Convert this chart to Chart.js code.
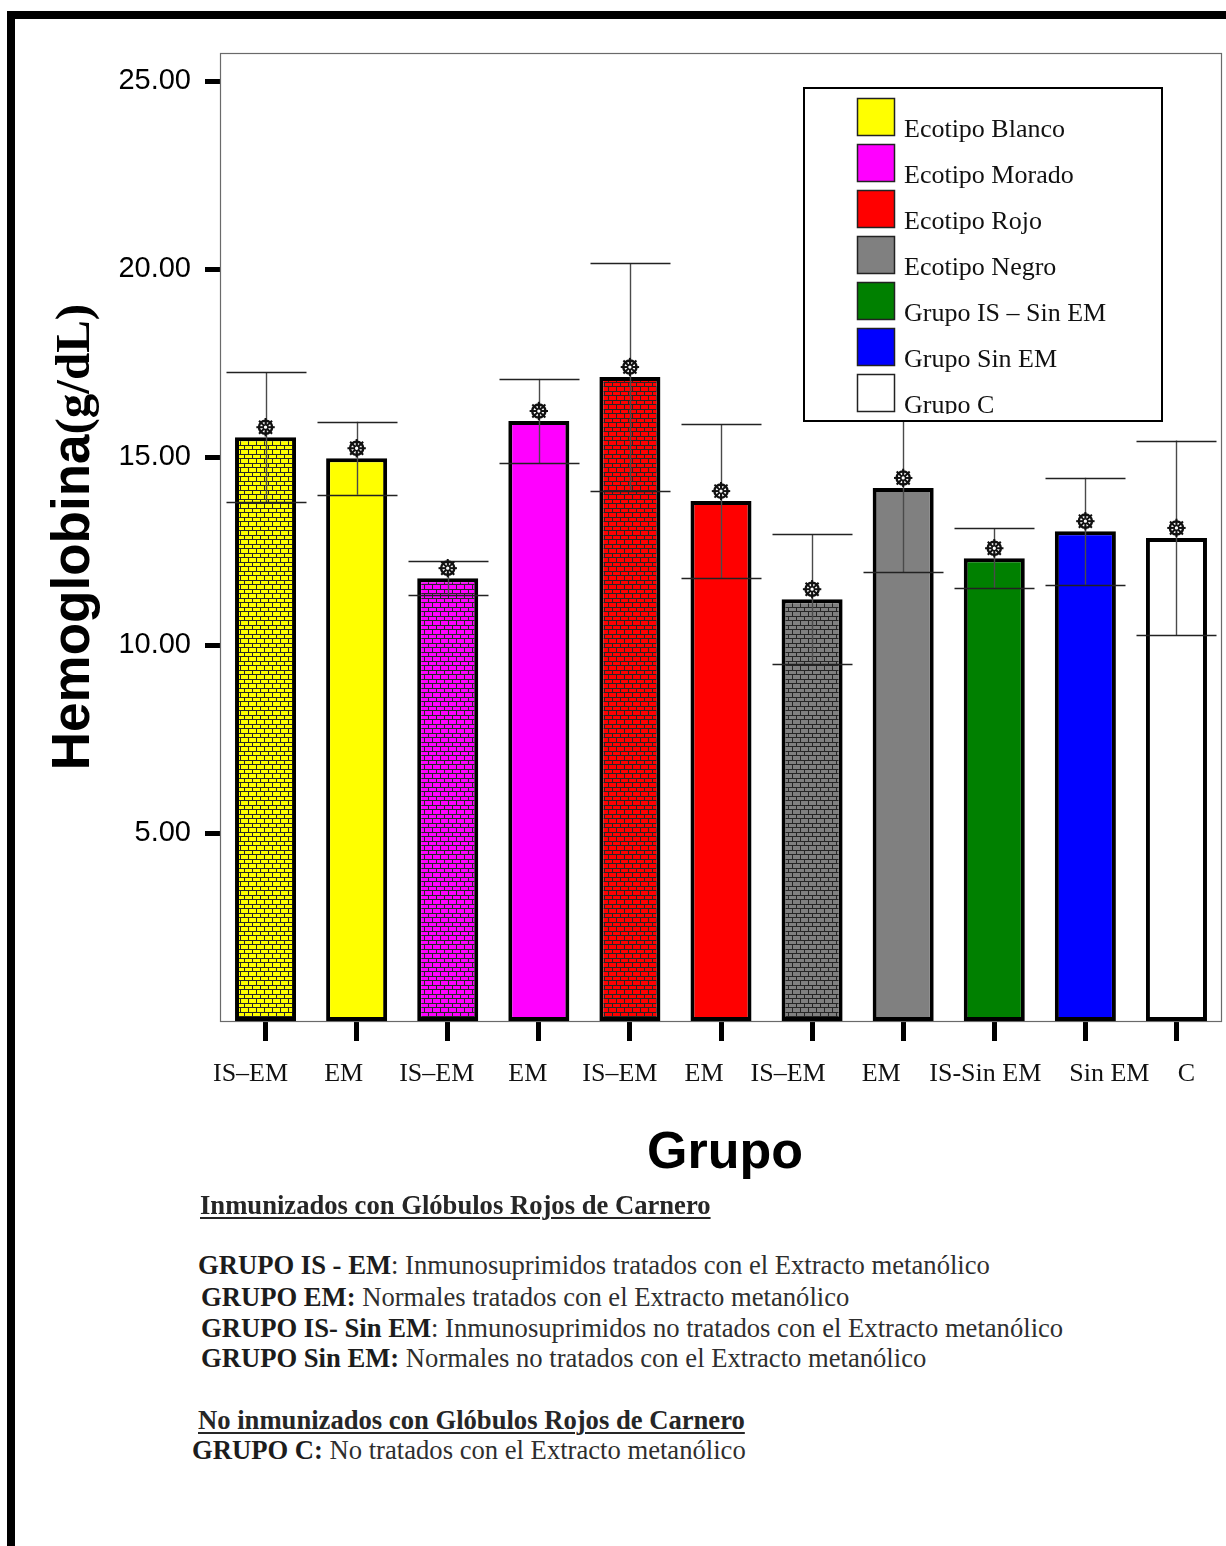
<!DOCTYPE html>
<html lang="es">
<head>
<meta charset="utf-8">
<title>Hemoglobina por grupo</title>
<script src="https://cdn.jsdelivr.net/npm/chart.js@4.4.1/dist/chart.umd.min.js"></script>
<style>
  html, body { margin: 0; padding: 0; background: #fff; }
  body { width: 1226px; height: 1546px; position: relative; overflow: hidden; }
  #frame { position: absolute; left: 7px; top: 11px; right: -20px; bottom: -20px;
           border-top: 8px solid #000; border-left: 8px solid #000; }
  #chart { position: absolute; left: 0; top: 0; }
  .note { position: absolute; white-space: nowrap; height: 30px; line-height: 30px;
          font-family: "Liberation Serif", "Times New Roman", serif; font-size: 27px;
          color: #2e2e2e; transform-origin: 0 50%; transform: scaleX(0.986); }
  .note b { color: #1c1c1c; }
  .head { font-weight: bold; color: #262626; text-decoration: underline;
          text-decoration-thickness: 2px; text-underline-offset: 3px; }
</style>
</head>
<body>
<div id="frame"></div>
<canvas id="chart" width="1226" height="1191"></canvas>

<div class="note head" style="left:200px; top:1190px;">Inmunizados con Glóbulos Rojos de Carnero</div>
<div class="note" style="left:198px; top:1250px;"><b>GRUPO IS - EM</b>: Inmunosuprimidos tratados con el Extracto metanólico</div>
<div class="note" style="left:201px; top:1282px;"><b>GRUPO EM:</b> Normales tratados con el Extracto metanólico</div>
<div class="note" style="left:201px; top:1313px;"><b>GRUPO IS- Sin EM</b>: Inmunosuprimidos no tratados con el Extracto metanólico</div>
<div class="note" style="left:201px; top:1343px;"><b>GRUPO Sin EM:</b> Normales no tratados con el Extracto metanólico</div>
<div class="note head" style="left:198px; top:1405px;">No inmunizados con Glóbulos Rojos de Carnero</div>
<div class="note" style="left:192px; top:1435px;"><b>GRUPO C:</b> No tratados con el Extracto metanólico</div>

<script>
// ---- data ----
const categories = ['IS–EM', 'EM', 'IS–EM', 'EM', 'IS–EM', 'EM', 'IS–EM', 'EM', 'IS-Sin EM', 'Sin EM', 'C'];
const hemoglobin = [15.53, 14.97, 11.78, 15.96, 17.13, 13.83, 11.22, 14.18, 12.31, 13.03, 12.85];
const errorHalf  = [1.73, 0.97, 0.45, 1.12, 3.03, 2.05, 1.73, 2.24, 0.80, 1.42, 2.59];
const yTickValues = [5, 10, 15, 20, 25];
const legendLabels = ['Ecotipo Blanco', 'Ecotipo Morado', 'Ecotipo Rojo', 'Ecotipo Negro',
                      'Grupo IS – Sin EM', 'Grupo Sin EM', 'Grupo C'];

// ---- styling ----
const legendColors = ['#ffff00', '#ff00ff', '#ff0000', '#808080', '#008000', '#0000ff', '#ffffff'];
const barColors = ['#ffff00', '#ffff00', '#ff00ff', '#ff00ff', '#ff0000', '#ff0000',
                   '#808080', '#808080', '#008000', '#0000ff', '#ffffff'];
const brickBars = [true, false, true, false, true, false, true, false, false, false, false];
// horizontal nudge of each category label from its tick (px)
const labelShift = [-15, -13, -11, -11, -10, -17, -24, -22, -9, 24, 10];

const SANS = '"Liberation Sans", Arial, Helvetica, sans-serif';
const SERIF = '"Liberation Serif", "Times New Roman", serif';

// brick fill used for the immunosuppressed (IS–EM) groups
function brickPattern(color) {
  const c = document.createElement('canvas');
  c.width = 8; c.height = 9;
  const g = c.getContext('2d');
  g.fillStyle = color; g.fillRect(0, 0, 8, 9);
  g.fillStyle = '#262626';
  g.fillRect(0, 4, 8, 1);
  g.fillRect(0, 8, 8, 1);
  g.fillRect(0, 0, 1, 4);
  g.fillRect(4, 5, 1, 3);
  return g.createPattern(c, 'repeat');
}

const ctx = document.getElementById('chart').getContext('2d');
const fills = barColors.map((c, i) => brickBars[i] ? brickPattern(c) : c);

function drawWheel(g, x, y) {
  g.save();
  g.strokeStyle = '#111';
  g.fillStyle = '#fff';
  g.lineWidth = 2;
  for (let k = 0; k < 8; k++) {
    const a = k * Math.PI / 4;
    g.beginPath();
    g.moveTo(x + Math.cos(a) * 1.5, y + Math.sin(a) * 1.5);
    g.lineTo(x + Math.cos(a) * 9.2, y + Math.sin(a) * 9.2);
    g.stroke();
  }
  g.lineWidth = 2.4;
  g.beginPath(); g.arc(x, y, 6.6, 0, Math.PI * 2); g.stroke();
  g.lineWidth = 1.3;
  g.beginPath(); g.arc(x, y, 2.3, 0, Math.PI * 2); g.fill(); g.stroke();
  g.restore();
}

// frame around the plotting region
const plotBox = {
  id: 'plotBox',
  beforeDatasetsDraw(chart) {
    const { ctx: g, chartArea: a } = chart;
    g.save();
    g.strokeStyle = '#6a6a6a';
    g.lineWidth = 1.2;
    g.strokeRect(a.left + 0.5, a.top + 0.5, a.right - a.left - 1, a.bottom - a.top);
    g.restore();
  }
};

// standard-deviation bars and mean markers
const errorBars = {
  id: 'errorBars',
  afterDatasetsDraw(chart) {
    const g = chart.ctx;
    const y = chart.scales.y;
    const meta = chart.getDatasetMeta(0);
    g.save();
    meta.data.forEach((bar, i) => {
      const x = Math.round(bar.x) + 0.5;
      const hi = y.getPixelForValue(hemoglobin[i] + errorHalf[i]);
      const lo = y.getPixelForValue(hemoglobin[i] - errorHalf[i]);
      g.strokeStyle = '#4a4a4a';
      g.lineWidth = 1.4;
      g.beginPath(); g.moveTo(x, hi); g.lineTo(x, lo); g.stroke();
      g.strokeStyle = '#222';
      g.beginPath();
      g.moveTo(x - 40, Math.round(hi) + 0.5); g.lineTo(x + 40, Math.round(hi) + 0.5);
      g.moveTo(x - 40, Math.round(lo) + 0.5); g.lineTo(x + 40, Math.round(lo) + 0.5);
      g.stroke();
    });
    meta.data.forEach((bar, i) => drawWheel(g, bar.x, bar.y - 10));
    g.restore();
  }
};

// category labels, axis titles and the boxed legend
const decorations = {
  id: 'decorations',
  afterDraw(chart) {
    const g = chart.ctx;
    const xs = chart.scales.x;

    g.save();
    g.fillStyle = '#111';
    g.font = '26px ' + SERIF;
    g.textAlign = 'center';
    g.textBaseline = 'middle';
    categories.forEach((lab, i) => {
      g.fillText(lab, xs.getPixelForTick(i) + labelShift[i], xs.top + 53);
    });
    g.restore();

    // y title: "Hemoglobina" + "(g/dL)" in two faces
    g.save();
    const f1 = 'bold 53px ' + SANS, f2 = 'bold 49px ' + SERIF;
    g.font = f1; const w1 = g.measureText('Hemoglobina').width;
    g.font = f2; const w2 = g.measureText('(g/dL)').width;
    g.translate(89, 537 + (w1 + w2) / 2);
    g.rotate(-Math.PI / 2);
    g.fillStyle = '#000';
    g.textBaseline = 'alphabetic';
    g.textAlign = 'left';
    g.font = f1; g.fillText('Hemoglobina', 0, 0);
    g.font = f2; g.fillText('(g/dL)', w1, 0);
    g.restore();

    // x title
    g.save();
    g.fillStyle = '#000';
    g.font = 'bold 52px ' + SANS;
    g.textAlign = 'center';
    g.textBaseline = 'alphabetic';
    g.fillText('Grupo', 725, 1168);
    g.restore();

    // legend
    const L = { x: 803, y: 87, w: 360, h: 335 };
    g.save();
    g.fillStyle = '#fff';
    g.fillRect(L.x, L.y, L.w, L.h);
    g.beginPath();
    g.rect(L.x + 1, L.y + 1, L.w - 2, L.h - 9);
    g.clip();
    g.font = '26px ' + SERIF;
    g.textBaseline = 'alphabetic';
    legendLabels.forEach((lab, i) => {
      const sy = 98 + i * 46;
      g.fillStyle = legendColors[i];
      g.fillRect(857, sy, 38, 38);
      g.strokeStyle = '#222';
      g.lineWidth = 1.5;
      g.strokeRect(857.5, sy + 0.5, 37, 37);
      g.fillStyle = '#111';
      g.fillText(lab, 904, sy + 39);
    });
    g.restore();
    g.save();
    g.strokeStyle = '#000';
    g.lineWidth = 2;
    g.strokeRect(L.x + 1, L.y + 1, L.w - 2, L.h - 2);
    g.restore();
  }
};

new Chart(ctx, {
  type: 'bar',
  data: {
    labels: categories,
    datasets: [{
      data: hemoglobin,
      backgroundColor: fills,
      borderColor: '#000',
      borderWidth: 4,
      borderSkipped: false,
      barPercentage: 0.67,
      categoryPercentage: 1
    }]
  },
  options: {
    responsive: false,
    animation: false,
    devicePixelRatio: 1,
    layout: { padding: { top: 53, right: 4, left: 0, bottom: 0 } },
    plugins: { legend: { display: false }, tooltip: { enabled: false } },
    scales: {
      x: {
        offset: true,
        border: { display: false },
        grid: { display: true, drawOnChartArea: false, drawTicks: true, offset: false,
                tickLength: 20, tickWidth: 5, tickColor: '#000' },
        ticks: { display: false, autoSkip: false },
        afterFit(s) { s.height = 170; }
      },
      y: {
        min: 0, max: 25.75,
        border: { display: false },
        grid: { display: true, drawOnChartArea: false, drawTicks: true,
                tickLength: 15, tickWidth: 5, tickColor: '#000' },
        afterBuildTicks(s) { s.ticks = yTickValues.map(v => ({ value: v })); },
        ticks: { font: { family: SANS, size: 29 }, color: '#000', padding: 14,
                 callback: v => v.toFixed(2) },
        afterFit(s) { s.width = 220; }
      }
    }
  },
  plugins: [plotBox, errorBars, decorations]
});
</script>
</body>
</html>
